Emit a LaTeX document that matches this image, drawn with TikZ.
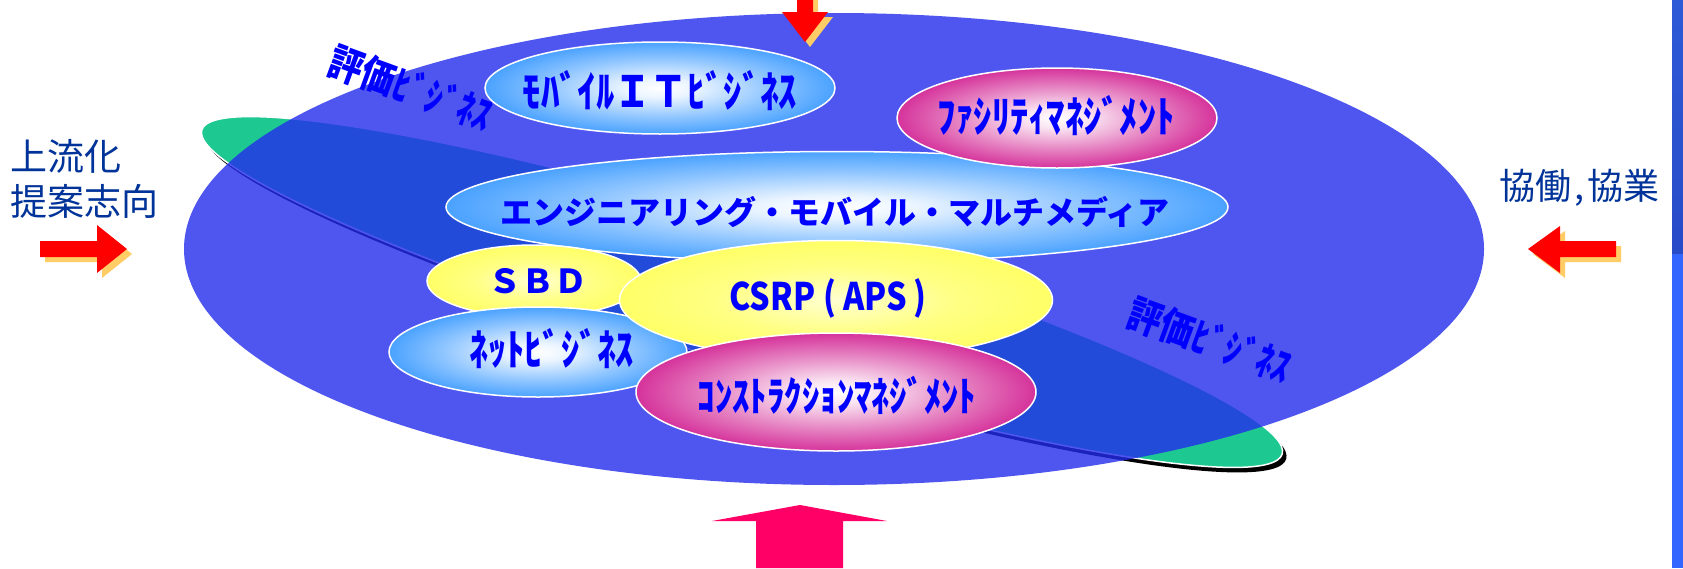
\documentclass[tikz,border=0pt]{standalone}
\usepackage{fontspec}
\newfontfamily\jp{Noto Sans CJK JP}
\newfontfamily\jpn{Noto Sans CJK JP}[FakeStretch=0.85]
\usetikzlibrary{shapes.geometric}
\definecolor{fieldblue}{RGB}{36,44,236}
\definecolor{labelblue}{RGB}{0,0,255}
\definecolor{sideblue}{RGB}{0,51,153}
\definecolor{arrowred}{RGB}{255,0,0}
\definecolor{arrowshade}{RGB}{255,204,102}
\definecolor{pinkarrow}{RGB}{255,0,102}
\definecolor{skyedge}{RGB}{51,150,255}
\definecolor{magedge}{RGB}{208,25,142}
\definecolor{yeledge}{RGB}{255,255,100}
\definecolor{greenband}{RGB}{30,200,145}
\definecolor{stripdark}{RGB}{45,90,215}
\definecolor{stripdeep}{RGB}{40,75,200}
\definecolor{striplight}{RGB}{51,102,255}
\pgfdeclareradialshading{skyshade}{\pgfpoint{0bp}{0bp}}{color(0bp)=(white); color(5bp)=(white!90!skyedge); color(16bp)=(skyedge!55!white); color(28bp)=(skyedge); color(100bp)=(skyedge)}
\pgfdeclareradialshading{magshade}{\pgfpoint{0bp}{0bp}}{color(0bp)=(white); color(5bp)=(white!88!magedge); color(16bp)=(magedge!55!white); color(28bp)=(magedge); color(100bp)=(magedge)}
\pgfdeclareradialshading{yelshade}{\pgfpoint{0bp}{0bp}}{color(0bp)=(yeledge!30!white); color(14bp)=(yeledge!80!white); color(26bp)=(yeledge); color(100bp)=(yeledge)}
\begin{document}
\begin{tikzpicture}[x=1pt,y=-1pt,
  jpbold/.style={font=\jp\bfseries\fontsize{#1}{#1}\selectfont, text=labelblue, inner sep=0pt},
  jpnarrow/.style={font=\jpn\bfseries\fontsize{#1}{#1}\selectfont, text=labelblue, inner sep=0pt},
  sidelabel/.style={font=\jp\fontsize{#1}{#1}\selectfont, text=sideblue, inner sep=0pt, anchor=west},
  bubble/.style={ellipse, draw=white, line width=1.5pt, shade, shading=#1, inner sep=0pt},
  bandshape/.style={ellipse, minimum width=1128pt, minimum height=140pt, rotate=-16.7, inner sep=0pt}
]
\useasboundingbox (0,0) rectangle (1683,568);
\fill[white] (0,0) rectangle (1683,568);

% right edge strip
\shade[top color=stripdark, bottom color=stripdeep] (1672,0) rectangle (1683,254);
\fill[striplight] (1672,254) rectangle (1683,568);

% tilted evaluation band
\node[bandshape, fill=black] (bandshadow) at (746,297) {};
\node[bandshape, fill=greenband, draw=white, line width=1.5pt] (band) at (742,292) {};

% main field
\node[ellipse, fill=fieldblue, fill opacity=0.8, minimum width=1300pt, minimum height=472pt, inner sep=0pt] (field) at (834,249) {};

% band labels
\node[jpnarrow=40, rotate=-20] (evalA) at (411,88) {評価ﾋﾞｼﾞﾈｽ};
\node[jpnarrow=40, rotate=-20] (evalB) at (1210,340) {評価ﾋﾞｼﾞﾈｽ};

% bubbles
\node[bubble=skyshade, minimum width=350pt, minimum height=92pt] (mobile) at (660,88) {};
\node[jpnarrow=43] (mobileT) at (660,91) {ﾓﾊﾞｲﾙＩＴﾋﾞｼﾞﾈｽ};

\node[bubble=skyshade, minimum width=782pt, minimum height=111pt] (engi) at (837,207) {};
\node[jpbold=32] (engiT) at (835,212) {エンジニアリング・モバイル・マルチメディア};

\node[bubble=magshade, minimum width=320pt, minimum height=100pt] (facility) at (1057,118) {};
\node[jpnarrow=43] (facilityT) at (1056,116) {ﾌｧｼﾘﾃｨﾏﾈｼﾞﾒﾝﾄ};

\node[bubble=yelshade, minimum width=214pt, minimum height=72pt] (sbd) at (534,281) {};
\node[jpbold=33] (sbdT) at (538,281) {ＳＢＤ};

\node[bubble=skyshade, minimum width=298pt, minimum height=90pt] (net) at (538,352) {};
\node[jpnarrow=43] (netT) at (552,349) {ﾈｯﾄﾋﾞｼﾞﾈｽ};

\node[bubble=yelshade, minimum width=433pt, minimum height=119pt] (csrp) at (836,300) {};
\node[jpnarrow=38] (csrpT) at (828,298) {CSRP\hspace{8pt}(\hspace{7pt}APS\hspace{7pt})};

\node[bubble=magshade, minimum width=400pt, minimum height=118pt] (const) at (836,392) {};
\node[jpnarrow=41] (constT) at (837,395) {ｺﾝｽﾄﾗｸｼｮﾝﾏﾈｼﾞﾒﾝﾄ};

% side labels
\node[sidelabel=37] (upstream) at (10,156) {上流化};
\node[sidelabel=37] (proposal) at (10,201) {提案志向};
\node[sidelabel=36] (collab) at (1499,188) {協働\hspace{3pt},\hspace{3pt}協業};

% left arrow
\fill[arrowshade, shift={(5,5)}] (40,241) -- (97,241) -- (97,225) -- (127,249) -- (97,273) -- (97,257) -- (40,257) -- cycle;
\fill[arrowred] (40,241) -- (97,241) -- (97,225) -- (127,249) -- (97,273) -- (97,257) -- (40,257) -- cycle;
% right arrow
\fill[arrowshade, shift={(5,5)}] (1616,241) -- (1560,241) -- (1560,226) -- (1528,249) -- (1560,273) -- (1560,257) -- (1616,257) -- cycle;
\fill[arrowred] (1616,241) -- (1560,241) -- (1560,226) -- (1528,249) -- (1560,273) -- (1560,257) -- (1616,257) -- cycle;
% top arrow
\fill[arrowshade, shift={(5,5)}] (797,-10) -- (797,12) -- (782,12) -- (805,42) -- (828,12) -- (813,12) -- (813,-10) -- cycle;
\fill[arrowred] (797,-10) -- (797,12) -- (782,12) -- (805,42) -- (828,12) -- (813,12) -- (813,-10) -- cycle;
% bottom arrow
\fill[pinkarrow] (756,568) -- (756,521) -- (712,521) -- (800,505) -- (887,521) -- (843,521) -- (843,568) -- cycle;
\end{tikzpicture}
\end{document}
